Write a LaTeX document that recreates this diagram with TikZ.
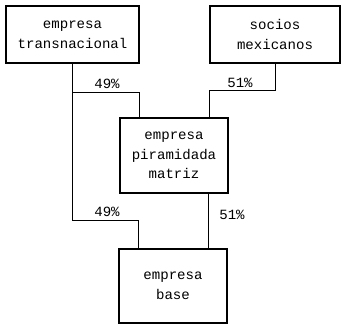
\documentclass[tikz,border=0pt]{standalone}
\usepackage{fontspec}
\setmainfont{Liberation Mono}
\tikzset{
  firma/.style={draw, line width=0.8pt, align=center, inner sep=0pt,
    font=\fontsize{10}{14}\selectfont},
  link/.style={line width=0.7pt},
  pct/.style={font=\fontsize{10}{12}\selectfont, inner sep=0pt}
}
\begin{document}
\begin{tikzpicture}[x=0.025cm, y=-0.025cm]
  \useasboundingbox (0,0) rectangle (341,324);
  \node[firma, minimum width=3.325cm, minimum height=1.425cm] (trans) at (72.5,34.5) {empresa\\transnacional};
  \node[firma, minimum width=3.25cm, minimum height=1.425cm] (socios) at (275,34.5) {socios\\mexicanos};
  \node[firma, minimum width=2.7cm, minimum height=1.875cm] (piram) at (174,155.5) {empresa\\piramidada\\matriz};
  \node[firma, minimum width=2.7cm, minimum height=1.85cm] (base) at (173,286) {empresa\\base};

  \draw[link] (trans.south) |- (139,92) -- ({139,0} |- piram.north);
  \draw[link] (socios.south) |- (209,90) -- ({209,0} |- piram.north);
  \draw[link] (trans.south) |- (138,220) -- ({138,0} |- base.north);
  \draw[link] ({208,0} |- piram.south) -- ({208,0} |- base.north);

  \node[pct] (p1) at (107,84) {49\%};
  \node[pct] (p2) at (240,83) {51\%};
  \node[pct] (p3) at (107,212) {49\%};
  \node[pct] (p4) at (232,215) {51\%};
\end{tikzpicture}
\end{document}
